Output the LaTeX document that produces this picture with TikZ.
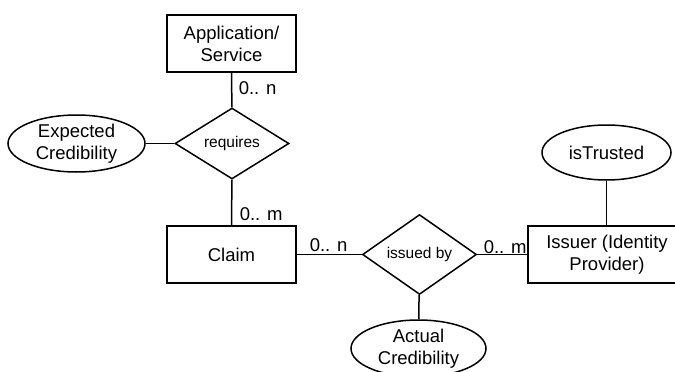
\documentclass[tikz,border=0pt]{standalone}
\usepackage{fontspec}
\setmainfont{Liberation Sans}
\usetikzlibrary{shapes.geometric}
\begin{document}
\begin{tikzpicture}[x=1pt,y=-1pt,
  line width=1.5pt,
  every node/.style={font=\fontsize{18.5}{22}\selectfont, align=center, inner sep=0pt},
  entity/.style={draw, rectangle, minimum width=129pt, minimum height=57pt},
  relation/.style={draw, diamond, minimum width=114pt, minimum height=71pt,
    font=\fontsize{15.5}{18}\selectfont},
  attribute/.style={draw, ellipse, minimum width=137pt, minimum height=57pt},
  card/.style={anchor=base west}]
\useasboundingbox (0,0) rectangle (675,372);
\clip (0,0) rectangle (675,372);

% entities
\node[entity] (app) at (231.5,43.5) {Application/\\Service};
\node[entity] (claim) at (231.5,254.5) {Claim};
\node[entity, minimum width=158pt] (issuer) at (607,254.5) {Issuer (Identity\\Provider)};

% relationships
\node[relation] (req) at (232,143.5) {requires};
\node[relation] (iss) at (419.5,254.5) {issued by};

% attributes
\node[attribute] (exp) at (76.5,143.5) {Expected\\Credibility};
\node[attribute, minimum width=129pt, minimum height=55pt] (trust) at (606.5,152.5) {isTrusted};
\node[attribute, minimum width=135pt] (act) at (418.5,348.5) {Actual\\Credibility};

% connectors
\draw (app) -- (req);
\draw (req) -- (claim);
\draw (exp) -- (req);
\draw (claim) -- (iss);
\draw (iss) -- (issuer.west |- iss);
\draw (trust) -- (trust |- issuer.north);
\draw (iss) -- (act);

% cardinalities
\node[card] (c1) at (238,94) {0.. n};
\node[card] (c2) at (239,220) {0.. m};
\node[card] (c3) at (309,251) {0.. n};
\node[card] (c4) at (483,253) {0.. m};
\end{tikzpicture}
\end{document}
